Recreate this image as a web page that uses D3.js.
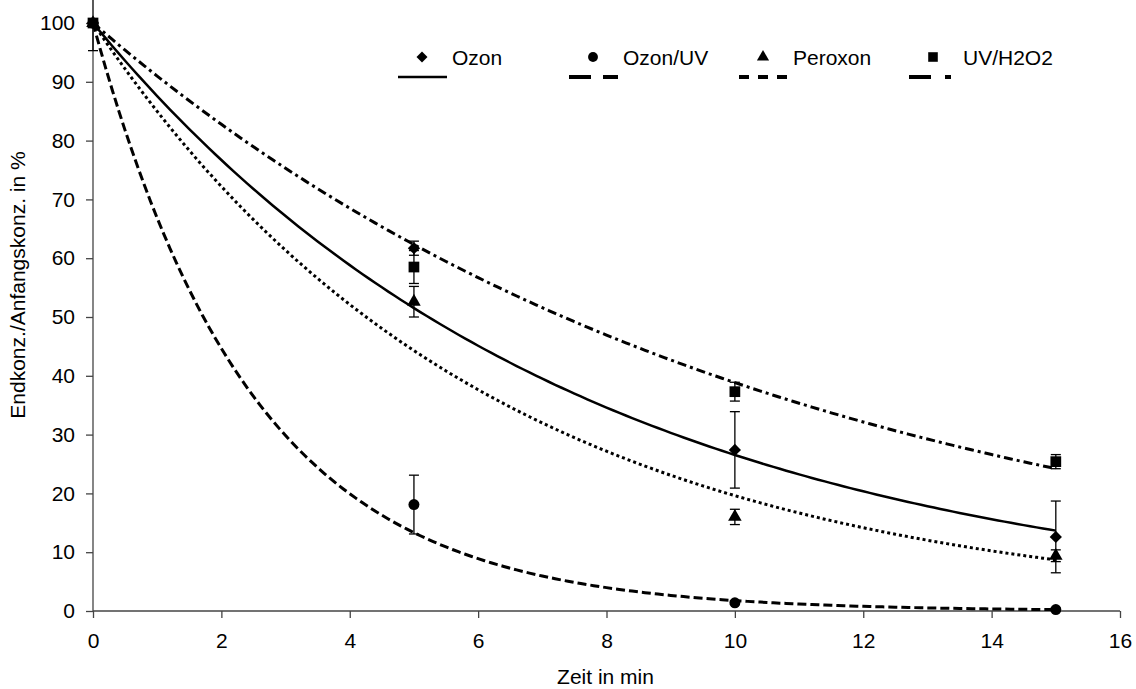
<!DOCTYPE html>
<html><head><meta charset="utf-8">
<script src="https://cdn.jsdelivr.net/npm/d3@7"></script>
<style>body{margin:0;background:#fff}svg text{font-family:"Liberation Sans",Arial,sans-serif;fill:#000}</style>
</head><body><svg id="c" width="1136" height="689"></svg>
<script>
// ---- data ----
const times = [0, 5, 10, 15];
const seriesNames = ["Ozon", "Ozon/UV", "Peroxon", "UV/H2O2"];
const ozon      = [100, 61.7, 27.4, 12.6];
const ozonErr   = [0, 1.2, 6.5, 6.1];
const ozonUV    = [100, 18.1, 1.4, 0.25];
const ozonUVErr = [4.7, 5.0, 0.3, 0.2];
const peroxon   = [100, 52.6, 16.0, 9.4];
const peroxonErr= [0, 2.6, 1.3, 1.0];
const uvH2O2    = [100, 58.5, 37.3, 25.4];
const uvH2O2Err = [0, 2.8, 1.6, 1.2];
const xTicks = [0, 2, 4, 6, 8, 10, 12, 14, 16];
const yTicks = [0, 10, 20, 30, 40, 50, 60, 70, 80, 90, 100];

const diamond = { draw(ctx, size) { const r = Math.sqrt(size / 2); ctx.moveTo(0, -r); ctx.lineTo(r, 0); ctx.lineTo(0, r); ctx.lineTo(-r, 0); ctx.closePath(); } };

const series = [
  {name: seriesNames[0], v: ozon, e: ozonErr, sym: diamond, size: 75, dash: null, legDash: null},
  {name: seriesNames[1], v: ozonUV, e: ozonUVErr, sym: d3.symbolCircle, size: 95, dash: "9,4", legDash: "22,12"},
  {name: seriesNames[2], v: peroxon, e: peroxonErr, sym: d3.symbolTriangle, size: 80, dash: "3,3", legDash: "10,9"},
  {name: seriesNames[3], v: uvH2O2, e: uvH2O2Err, sym: d3.symbolSquare, size: 115, dash: "9,4,3,4", legDash: "22,14,6,14"}
];

const L = 93, R = 1120, T = 23, B = 611;
const FS = "21px";
const x = d3.scaleLinear().domain([0, 16]).range([L, R]);
const y = d3.scaleLinear().domain([0, 100]).range([B, T]);
const svg = d3.select("#c");

// axes
const ax = svg.append("g").attr("transform", `translate(0,${B})`)
  .call(d3.axisBottom(x).tickValues(xTicks).tickSize(7).tickPadding(15).tickFormat(d3.format("d")));
const ay = svg.append("g").attr("transform", `translate(${L},0)`)
  .call(d3.axisLeft(y).tickValues(yTicks).tickSize(7).tickPadding(11).tickFormat(d3.format("d")));
[ax, ay].forEach(g => {
  g.selectAll("path").attr("stroke", "#444").attr("stroke-width", 1.3);
  g.selectAll("line").attr("stroke", "#444").attr("stroke-width", 1.3);
  g.selectAll("text").style("font-size", FS).style("font-family", "Liberation Sans, Arial, sans-serif").attr("fill", "#000");
});
ax.select(".domain").attr("d", `M${L},0H${R}`);
ay.select(".domain").attr("d", `M0,${B}V${T}`);
ax.selectAll("text").attr("dy", "0.71em");

svg.append("text").attr("x", (L + R) / 2 - 1).attr("y", 684).attr("text-anchor", "middle")
  .style("font-size", FS).text("Zeit in min");
svg.append("text").attr("transform", `translate(25,285) rotate(-90)`).attr("text-anchor", "middle")
  .style("font-size", FS).text("Endkonz./Anfangskonz. in %");

// exponential trend lines (fit through 100 at t=0, as in the original)
const line = d3.line().x(d => x(d[0])).y(d => y(d[1]));
series.forEach(s => {
  let num = 0, den = 0;
  times.forEach((t, i) => { if (t > 0) { num += t * Math.log(s.v[i] / 100); den += t * t; } });
  const b = num / den;
  const pts = d3.range(0, 15.0001, 0.1).map(t => [t, 100 * Math.exp(b * t)]);
  svg.append("path").attr("d", line(pts)).attr("fill", "none").attr("stroke", "#000")
    .attr("stroke-width", s.dash ? 3 : 2.5).attr("stroke-dasharray", s.dash);
});

// error bars
series.forEach(s => {
  times.forEach((t, i) => {
    if (!s.e[i]) return;
    const g = svg.append("g").attr("stroke", "#000").attr("stroke-width", 1.3);
    const lo = s.v[i] - s.e[i], hi = s.v[i] + s.e[i];
    g.append("line").attr("x1", x(t)).attr("x2", x(t)).attr("y1", y(lo)).attr("y2", y(hi));
    [lo, hi].forEach(v => g.append("line").attr("x1", x(t) - 5).attr("x2", x(t) + 5).attr("y1", y(v)).attr("y2", y(v)));
  });
});

// markers
series.forEach(s => {
  times.forEach((t, i) => {
    svg.append("path").attr("d", d3.symbol().type(s.sym).size(s.size)())
      .attr("transform", `translate(${x(t)},${y(s.v[i])})`).attr("fill", "#000");
  });
});

// legend
const legX = [422, 593, 763, 933];
series.forEach((s, i) => {
  const cx = legX[i];
  svg.append("path").attr("d", d3.symbol().type(s.sym).size(s.size * 0.8)())
    .attr("transform", `translate(${cx},57)`).attr("fill", "#000");
  svg.append("text").attr("x", cx + 30).attr("y", 65).style("font-size", FS).text(s.name);
  svg.append("line").attr("x1", cx - 24).attr("x2", cx + 25).attr("y1", 77).attr("y2", 77)
    .attr("stroke", "#000").attr("stroke-width", s.legDash ? 4 : 2.5).attr("stroke-dasharray", s.legDash);
});
</script></body></html>
